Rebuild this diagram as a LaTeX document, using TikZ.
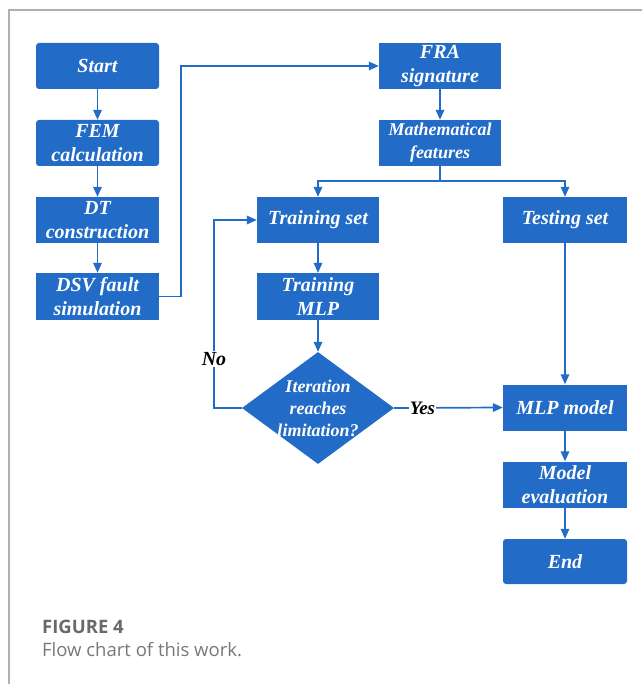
\documentclass[tikz,border=0pt]{standalone}
\usepackage{fontspec}
\setmainfont{Liberation Serif}
\newfontfamily\capfont{Open Sans}
\usetikzlibrary{arrows.meta,shapes.geometric}
\definecolor{boxblue}{RGB}{34,108,200}
\definecolor{framegray}{RGB}{176,176,176}
\definecolor{capgray}{RGB}{105,105,105}
\definecolor{captext}{RGB}{120,120,120}
\tikzset{
  blk/.style={fill=boxblue, draw=none, text=white, align=center, inner sep=0pt,
    font=\fontsize{20}{24}\selectfont\bfseries\itshape},
  rblk/.style={blk, rounded corners=3pt},
  arr/.style={draw=boxblue, line width=1.7pt, -{Triangle[length=10pt,width=8.5pt]}},
  ln/.style={draw=boxblue, line width=1.7pt},
  lbl/.style={fill=white, inner sep=1pt, text=black, font=\fontsize{20}{24}\selectfont\bfseries\itshape},
}
\begin{document}
\begin{tikzpicture}[x=1pt,y=-1pt]
\useasboundingbox (0,0) rectangle (641,684);
% frame
\draw[framegray, line width=1.2pt] (9,690) -- (9,10) -- (650,10);
% left column
\node[rblk, minimum width=123pt, minimum height=46pt] (start) at (97.5,66) {Start};
\node[rblk, minimum width=123pt, minimum height=46pt] (fem) at (97.5,143) {FEM\\calculation};
\node[blk, minimum width=123pt, minimum height=46pt] (dt) at (97.5,220) {DT\\construction};
\node[blk, minimum width=123pt, minimum height=47pt] (dsv) at (97.5,296.5) {DSV fault\\simulation};
% middle/right
\node[blk, minimum width=122pt, minimum height=46pt] (fra) at (440,66) {FRA\\signature};
\node[blk, minimum width=122pt, minimum height=46pt, font=\fontsize{18}{23}\selectfont\bfseries\itshape] (math) at (440,143) {Mathematical\\features};
\node[blk, minimum width=122pt, minimum height=46pt] (trainset) at (318,220) {Training set};
\node[blk, minimum width=124pt, minimum height=46pt] (testset) at (565,220) {Testing set};
\node[blk, minimum width=122pt, minimum height=47pt] (trainmlp) at (318,296.5) {Training\\MLP};
\node[diamond, fill=boxblue, inner sep=0pt, minimum width=152pt, minimum height=112pt] (dec) at (318,408) {};
\node[text=white, align=center, inner sep=0pt, font=\fontsize{18}{22}\selectfont\bfseries\itshape] (dectext) at (318,408) {Iteration\\reaches\\limitation?};
\node[blk, minimum width=124pt, minimum height=46pt] (mlp) at (565,407.5) {MLP model};
\node[blk, minimum width=124pt, minimum height=46pt] (eval) at (565,484.5) {Model\\evaluation};
\node[rblk, minimum width=124pt, minimum height=45pt] (end) at (565,561.5) {End};
% coordinates
\coordinate (j1) at (181,296.5);
\coordinate (split) at (440,181);
\coordinate (nob) at (214,408);
\coordinate (not) at (214,220);
% connectors
\draw[arr] (start) -- (fem);
\draw[arr] (fem) -- (dt);
\draw[arr] (dt) -- (dsv);
\draw[arr] (dsv.east) -- (j1) |- (fra.west);
\draw[arr] (fra) -- (math);
\draw[ln] (math.south) -- (split);
\draw[arr] (split) -| (trainset.north);
\draw[arr] (split) -| (testset.north);
\draw[arr] (trainset) -- (trainmlp);
\draw[arr] (trainmlp.south) -- (dec.north);
\draw[arr] (dec.west) -- (nob) -- node[lbl, pos=0.26] {No} (not) -- (trainset.west);
\draw[arr] (dec.east) -- node[lbl, pos=0.26, inner sep=0.5pt, font=\fontsize{19}{23}\selectfont\bfseries\itshape] {Yes} (mlp.west);
\draw[arr] (testset) -- (mlp);
\draw[arr] (mlp) -- (eval);
\draw[arr] (eval) -- (end);
% caption
\node[anchor=base west, inner sep=0pt, text=capgray, font=\capfont\fontsize{18.5}{22}\selectfont\bfseries] (figlbl) at (42,633) {FIGURE 4};
\node[anchor=base west, inner sep=0pt, text=captext, font=\capfont\fontsize{18.5}{22}\selectfont] (figcap) at (42,656) {Flow chart of this work.};
\end{tikzpicture}
\end{document}
